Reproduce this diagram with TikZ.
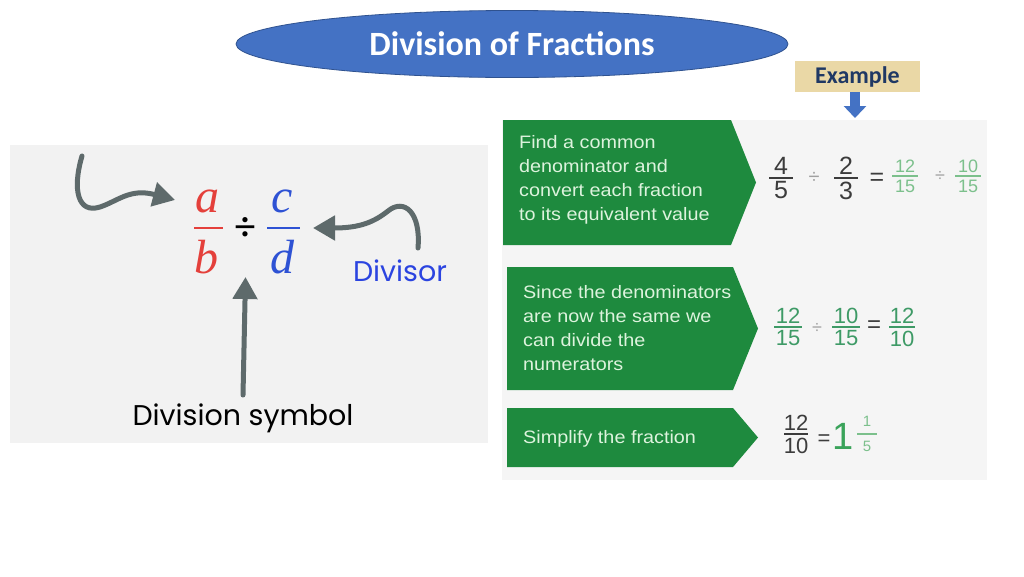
\documentclass[tikz,border=0pt]{standalone}
\usepackage{fontspec}
\setmainfont{Liberation Sans}
\newfontfamily\calib{Carlito}
\newfontfamily\popf{Poppins}
\newfontfamily\tnr{Liberation Serif}
\newfontfamily\boxf[FakeStretch=1.1]{Liberation Sans}
\usetikzlibrary{arrows.meta,shapes.geometric}
\definecolor{titleblue}{HTML}{4472C4}
\definecolor{titleedge}{HTML}{2F528F}
\definecolor{tan}{HTML}{EAD8A6}
\definecolor{navy}{HTML}{1F3864}
\definecolor{panelgray}{HTML}{F2F2F2}
\definecolor{rpanel}{HTML}{F5F5F5}
\definecolor{arrowgray}{HTML}{5E6A6B}
\definecolor{fred}{HTML}{E4403B}
\definecolor{fblue}{HTML}{2E52D4}
\definecolor{divblue}{HTML}{2B44E0}
\definecolor{boxgreen}{HTML}{1E8A3E}
\definecolor{boxtext}{HTML}{DDF3DD}
\definecolor{darknum}{HTML}{3C3C3C}
\definecolor{lightnum}{HTML}{7CC08C}
\definecolor{midnum}{HTML}{3E9A66}
\definecolor{bignum}{HTML}{3AA35A}
\definecolor{divgray}{HTML}{A0A0A0}
% name, x, ybar, num, den, colour, font size, half bar width, gap
\newcommand\frg[9]{%
  \node[anchor=south,inner sep=0,text=#6,font=\fontsize{#7}{#7}\selectfont] (#1n) at (#2,#3-#9) {#4};
  \node[anchor=north,inner sep=0,text=#6,font=\fontsize{#7}{#7}\selectfont] (#1d) at (#2,#3+#9) {#5};
  \coordinate (#1l) at (#2-#8,#3);
  \coordinate (#1r) at (#2+#8,#3);
  \draw[#6,line width=1.2pt] (#1l) -- (#1r);
}
\newcommand\fr[8]{\frg{#1}{#2}{#3}{#4}{#5}{#6}{#7}{#8}{3.5}}
\tikzset{
  garrow/.style={draw=arrowgray,line width=5pt,line cap=round,-{Triangle[length=22pt,width=24pt]}},
  greenbox/.style={fill=boxgreen},
  boxtxt/.style={anchor=north west,inner sep=0,align=left,text=boxtext,font=\boxf\fontsize{18}{24}\selectfont},
  sym/.style={inner sep=0},
  letter/.style={sym,anchor=base,font=\tnr\itshape\fontsize{48}{48}\selectfont}
}
\begin{document}
\begin{tikzpicture}[x=1pt,y=-1pt]
\useasboundingbox (0,0) rectangle (1024,576);
\fill[white] (0,0) rectangle (1024,576);

% title
\node[ellipse,draw=titleedge,line width=0.8pt,fill=titleblue,minimum width=552,minimum height=67,inner sep=0,
  text=white,font=\calib\bfseries\fontsize{34}{36}\selectfont] (title) at (512,44) {Division of Fractions};

% example
\node[fill=tan,minimum width=125,minimum height=31,inner sep=0,text=navy,font=\calib\bfseries\fontsize{24}{24}\selectfont] (ex) at (857.5,76.5) {Example};
\coordinate (exa) at (855,118);
\draw[titleblue,line width=10pt,-{Triangle[length=12pt,width=22pt]}] (ex.south -| exa) -- (exa);

% left panel
\node[fill=panelgray,minimum width=478,minimum height=298,inner sep=0,anchor=north west] (lp) at (10,145) {};
\node[letter,text=fred] (fa) at (207,212) {a};
\node[letter,text=fred] (fb) at (206,273) {b};
\draw[fred,line width=2.2pt] (194,228) -- (223,228);
\node[sym,text=black,font=\tnr\bfseries\fontsize{40}{40}\selectfont] (fdiv) at (245.5,228.5) {÷};
\node[letter,text=fblue] (fc) at (282,212) {c};
\node[letter,text=fblue] (fd) at (282,273) {d};
\draw[fblue,line width=2.2pt] (267,228) -- (300,228);

\coordinate (a1s) at (82,156);
\coordinate (a1e) at (175,200);
\draw[garrow] (a1s) .. controls (72,190) and (78,214) .. (100,207) .. controls (118,201) and (130,188) .. (a1e);
\coordinate (a2s) at (418,248);
\coordinate (a2e) at (313,228);
\draw[garrow] (a2s) .. controls (421,212) and (404,198) .. (388,211) .. controls (374,222) and (360,228) .. (a2e);
\node[sym,text=divblue,font=\popf\fontsize{28.5}{28.5}\selectfont] (divisor) at (400,271) {Divisor};
\node[sym,text=black,font=\popf\fontsize{28.5}{28.5}\selectfont] (dsym) at (243,418) {Division symbol};
\coordinate (a3s) at (243,395);
\draw[garrow] (a3s) -- (fdiv.south |- 0,277);

% right panel
\node[fill=rpanel,minimum width=485,minimum height=360,inner sep=0,anchor=north west] (rp) at (502,120) {};
\fill[greenbox] (503,120) -- (731,120) -- (756,182.5) -- (731,245) -- (503,245) -- cycle;
\fill[greenbox] (507,267) -- (733,267) -- (758,328.5) -- (733,390) -- (507,390) -- cycle;
\fill[greenbox] (507,408) -- (733,408) -- (758,437.5) -- (733,467) -- (507,467) -- cycle;
\node[boxtxt] (t1) at (519,135) {Find a common\\denominator and\\convert each fraction\\to its equivalent value};
\node[boxtxt] (t2) at (523,285) {Since the denominators\\are now the same we\\can divide the\\numerators};
\node[boxtxt] (t3) at (523,430) {Simplify the fraction};

% row 1
\fr{fa1}{781}{178}{4}{5}{darknum}{25}{12}
\node[sym,text=divgray,font=\fontsize{20}{20}\selectfont] (r1d1) at (814,178) {÷};
\fr{fa2}{846}{178}{2}{3}{darknum}{25}{12}
\node[sym,text=darknum,font=\fontsize{25}{25}\selectfont] (r1e) at (877,179) {=};
\fr{fa3}{905}{176}{12}{15}{lightnum}{18}{13}
\node[sym,text=divgray,font=\fontsize{18}{18}\selectfont] (r1d2) at (940,176) {÷};
\fr{fa4}{968}{176}{10}{15}{lightnum}{18}{13}

% row 2
\fr{fb1}{788}{327}{12}{15}{midnum}{22}{14}
\node[sym,text=divgray,font=\fontsize{18}{18}\selectfont] (r2d1) at (817,328) {÷};
\fr{fb2}{846}{327}{10}{15}{midnum}{22}{14}
\node[sym,text=darknum,font=\fontsize{24}{24}\selectfont] (r2e) at (874,327) {=};
\fr{fb3}{902}{327}{12}{10}{midnum}{22}{13}

% row 3
\fr{fc1}{796}{434}{12}{10}{darknum}{22}{12}
\node[sym,text=darknum,font=\fontsize{22}{22}\selectfont] (r3e) at (824,440) {=};
\node[sym,text=bignum,font=\fontsize{38}{38}\selectfont] (r3one) at (843,436) {1};
\frg{fc2}{867}{434}{1}{5}{lightnum}{15}{10}{7}
\end{tikzpicture}
\end{document}
